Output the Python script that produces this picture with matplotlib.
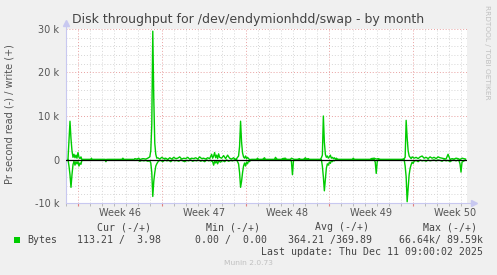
import matplotlib.pyplot as plt

# time in hours since Mon 10 Nov 2025 00:00, values in k bytes/s
write_hours = [-20, -18, -16, -14, -12, -10, -8, -6, -4, -2, 0, 2, 4, 6, 8,
               26, 27, 28, 88, 90, 92,
               112, 114, 118, 122, 124, 130, 136, 140, 144, 146, 148, 150, 152, 154, 156, 158,
               160, 164, 168, 172, 176, 180, 184, 188, 192, 196, 200, 204, 208, 212, 216, 220,
               224, 228, 232, 236, 240, 244, 248, 252, 256, 260, 264, 268, 270, 272, 274, 276,
               278, 280, 282, 284, 288, 292, 296, 300, 304, 308, 312, 316,
               318, 322, 324, 326, 328, 330, 332, 334, 336, 338, 340, 342, 344,
               358, 360, 362, 370, 374, 376, 394, 396, 398, 400, 408, 410, 416, 418,
               426, 428, 432, 434, 440, 444, 446, 452, 456, 458, 462, 464,
               486, 488, 490, 492, 494, 496, 498, 500, 502, 504, 506, 508, 510, 512, 514, 516, 518, 520, 522,
               550, 552, 554, 586, 588, 594, 598, 602, 606,
               650, 654, 656, 658, 660, 662, 664, 666, 668, 670, 674, 678, 682, 686, 690, 694,
               698, 702, 706, 710, 714, 718, 722, 724, 726, 730, 734, 738, 742, 746, 750, 754,
               758, 762, 766, 770, 774, 777]
write_vals = [0, 4.5, 8.8, 4.8, 2.0, 0.5, 1.2, 0.4, 1.0, 0.3, 1.6, 0.5, 0.2, 0.6, 0,
              0, 0.3, 0, 0, 0.3, 0,
              0, 0.2, 0.1, 0.3, 0, 0.2, 0.1, 0.3, 0.6, 2.0, 8.0, 29.5, 14.0, 3.7, 1.2, 0.3,
              0.4, 0.1, 0.5, 0.2, 0.3, 0, 0.4, 0.1, 0.5, 0.2, 0.3, 0.6, 0.1, 0.3, 0.2, 0.5,
              0.1, 0.3, 0.2, 0.4, 0.1, 0.6, 0.2, 0.3, 0.1, 0.4, 0.2, 1.2, 0.3, 0.8, 1.6, 0.4,
              1.0, 0.2, 1.3, 0.5, 0.3, 0.9, 0.2, 1.0, 0.3, 0.1, 0.4, 0,
              0.2, 0.8, 3.0, 8.8, 4.0, 1.5, 0.6, 0.3, 0.8, 0.2, 0.5, 0.2, 0,
              0, 0.3, 0, 0, 0.4, 0, 0, 0.5, 0.2, 0, 0, 0.2, 0.3, 0,
              0, 0.3, 0.1, 0, 0, 0.2, 0, 0, 0.4, 0.1, 0.2, 0,
              0, 0.4, 1.0, 10.0, 4.0, 1.2, 0.5, 0.8, 0.3, 0.6, 1.0, 0.3, 0.5, 0.2, 0.4, 0.1, 0.3, 0.1, 0,
              0, 0.3, 0, 0, 0.2, 0.3, 0.1, 0.2, 0,
              0, 0.2, 0.5, 9.0, 5.0, 2.0, 0.8, 0.5, 0.2, 0.6, 0.3, 0.5, 0.2, 0.6, 0.8, 0.3,
              0.5, 0.2, 0.6, 0.3, 0.5, 0.2, 0.6, 0.5, 0.4, 0.3, 0.2, 0.1, 1.2, 0, 0.2, 0.1,
              0.3, 0.2, 0, 0.3, 0.2, 0.1]

read_hours = [-20, -18, -16, -14, -12, -10, -8, -6, -4, -2, 0, 2, 4, 6, 8, 10,
              54, 56, 58,
              110, 114, 120, 124, 128, 132, 136, 140, 144, 146, 148, 150, 152, 154, 156, 158, 160, 162,
              166, 170, 174, 178, 182, 186, 190, 194, 198, 202, 206, 210, 214, 218, 222, 226,
              230, 234, 238, 242, 246, 250, 254, 258, 262, 266, 270, 272, 274, 276, 278, 280,
              282, 286, 290, 294, 298, 302, 306, 310, 314, 318,
              322, 324, 326, 328, 330, 332, 334, 336, 338, 340, 342, 344, 346, 348,
              426, 428, 430, 432, 434,
              488, 490, 492, 494, 496, 498, 500, 502, 504, 506, 508, 510, 512, 514, 516, 520,
              594, 596, 598, 600, 602,
              654, 656, 658, 660, 662, 664, 666, 668, 670, 672, 674, 678, 682, 686, 690, 694,
              698, 702, 706, 710, 714, 718, 722, 726, 730, 734, 738, 742, 746, 750, 754, 758,
              762, 764, 766, 768, 770, 774, 777]
read_vals = [0, -1.5, -3.5, -6.4, -3.5, -1.2, -0.4, -1.3, -0.5, -1.0, -0.5, -1.5, -0.8, -1.1, -0.1, 0,
             0, -0.5, 0,
             0, -0.2, -0.1, -0.4, -0.2, -0.3, -0.2, -0.4, -0.3, -0.8, -3.0, -8.5, -5.0, -3.0, -1.5, -1.0, -0.6, -0.3,
             -0.2, -0.5, -0.1, -0.3, -0.2, -0.5, -0.1, -0.3, -0.2, -0.4, -0.1, -0.3, -0.5, -0.2, -0.3, -0.1,
             -0.4, -0.2, -0.3, -0.1, -0.4, -0.2, -0.5, -0.1, -0.3, -0.2, -0.5, -1.3, -0.4, -0.8, -0.3, -1.0,
             -0.4, -0.6, -0.2, -0.5, -0.1, -0.4, -0.2, -0.3, -0.1, 0,
             -1.0, -3.0, -6.4, -5.0, -3.0, -1.5, -0.8, -1.5, -0.6, -1.0, -0.3, -0.5, -0.1, 0,
             0, -0.5, -3.5, -0.4, 0,
             0, -1.5, -4.0, -7.2, -4.5, -2.0, -1.0, -1.3, -0.6, -0.9, -0.3, -0.5, -0.2, -0.3, -0.1, 0,
             0, -0.6, -3.2, -0.5, 0,
             0, -1.5, -4.0, -9.7, -6.5, -3.5, -2.0, -1.2, -0.6, -0.9, -0.4, -0.2, -0.5, -0.1, -0.3, -0.2,
             -0.4, -0.1, -0.3, -0.2, -0.1, -0.3, -0.1, -0.2, -0.4, -0.1, -0.3, -0.2, -0.5, -0.2, -0.1, -0.3,
             -0.1, -0.3, -1.0, -2.9, -0.6, -0.3, -0.1]

week_starts = [0, 168, 336, 504, 672]
week_labels = ['Week 46', 'Week 47', 'Week 48', 'Week 49', 'Week 50']
y_ticks = [-10, 0, 10, 20, 30]
y_labels = ['-10 k', '0', '10 k', '20 k', '30 k']

legend_heads = ['Cur (-/+)', 'Min (-/+)', 'Avg (-/+)', 'Max (-/+)']
legend_vals = ['113.21 /  3.98', '0.00 /  0.00', '364.21 /369.89', '66.64k/ 89.59k']

W, H = 497, 275
fig = plt.figure(figsize=(W / 100, H / 100), dpi=100, facecolor='#f0f0f0')
ax = fig.add_axes([66 / W, 1 - 203 / H, (467 - 66) / W, (203 - 29) / H])
ax.set_facecolor('white')
ax.set_xlim(-22, 780)
ax.set_ylim(-10, 30)

# grid: days / 2k minor, weeks / 10k major
ax.set_xticks(week_starts)
ax.set_xticks(range(-24, 780, 24), minor=True)
ax.set_yticks(y_ticks)
ax.set_yticklabels(y_labels)
ax.set_yticks(range(-10, 31, 2), minor=True)
ax.set_xticklabels([])
ax.grid(which='minor', color='#d6d6d6', linestyle=(0, (1, 2)), linewidth=0.7)
ax.grid(which='major', color='#e8a0a0', linestyle=(0, (1, 2)), linewidth=0.7)
ax.tick_params(axis='y', which='both', length=0, labelsize=7, labelcolor='#555555', pad=5)
ax.tick_params(axis='x', which='major', length=2, color='#e08080', direction='out')
ax.tick_params(axis='x', which='minor', length=2, color='#b0b0b0', direction='out')
for s in ax.spines.values():
    s.set_visible(False)

for h, lab in zip(week_starts, week_labels):
    ax.text(h + 84, -0.06, lab, transform=ax.get_xaxis_transform(), ha='center', va='center',
            fontsize=7, color='#555555')

ax.plot(write_hours, write_vals, color='#00cc00', linewidth=1.0, zorder=3)
ax.plot(read_hours, read_vals, color='#00cc00', linewidth=1.0, zorder=3)
ax.axhline(0, color='black', linewidth=0.9, zorder=4)

# axis lines with arrows
ax.plot([0, 0], [0, 1.03], transform=ax.transAxes, color='#c8c8f0', linewidth=0.8, clip_on=False)
ax.plot([0, 1.015], [0, 0], transform=ax.transAxes, color='#c8c8f0', linewidth=0.8, clip_on=False)
ax.plot([0], [1.035], transform=ax.transAxes, marker='^', markersize=4, color='#c8c8f0', clip_on=False)
ax.plot([1.017], [0], transform=ax.transAxes, marker='>', markersize=4, color='#c8c8f0', clip_on=False)

fig.text(248 / W, 1 - 19 / H, 'Disk throughput for /dev/endymionhdd/swap - by month',
         ha='center', va='center', fontsize=9, color='#444444')
fig.text(10 / W, 1 - 114 / H, 'Pr second read (-) / write (+)', rotation=90,
         ha='center', va='center', fontsize=7, color='#555555')
fig.text(487 / W, 1 - 5 / H, 'RRDTOOL / TOBI OETIKER', rotation=270,
         ha='center', va='top', fontsize=5.3, color='#c0c0c0')

# legend block
mono = 'DejaVu Sans Mono'
for x, t in zip([124, 233, 342, 450], legend_heads):
    fig.text(x / W, 1 - 227 / H, t, ha='center', va='center', fontsize=7.1, family=mono, color='#444444')
fig.patches.append(plt.Rectangle((14 / W, 1 - 243 / H), 6 / W, 6 / H, transform=fig.transFigure,
                                 facecolor='#00cc00', edgecolor='none'))
fig.text(27 / W, 1 - 240 / H, 'Bytes', ha='left', va='center', fontsize=7.1, family=mono, color='#444444')
for x, t in zip([161, 267, 372, 483], legend_vals):
    fig.text(x / W, 1 - 240 / H, t, ha='right', va='center', fontsize=7.1, family=mono, color='#444444')
fig.text(483 / W, 1 - 252 / H, 'Last update: Thu Dec 11 09:00:02 2025', ha='right', va='center',
         fontsize=7.1, family=mono, color='#444444')
fig.text(248 / W, 1 - 263 / H, 'Munin 2.0.73', ha='center', va='center', fontsize=5.4, color='#c0c0c0')

plt.savefig('out.png', dpi=100, facecolor=fig.get_facecolor())
